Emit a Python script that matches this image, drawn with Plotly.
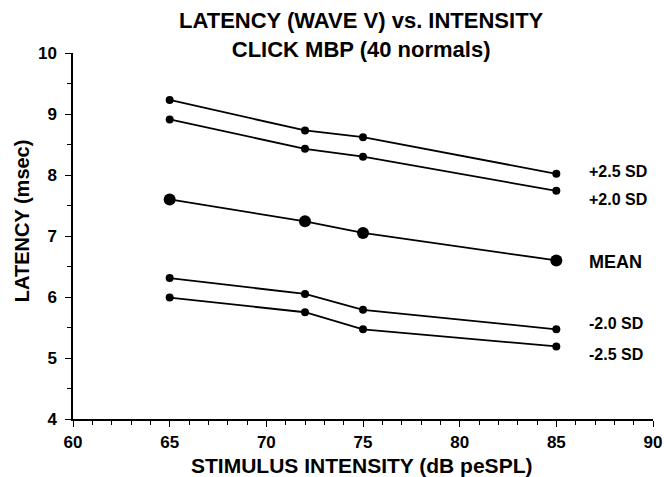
import plotly.graph_objects as go

intensity = [65, 72, 75, 85]
plus25 = [9.23, 8.73, 8.62, 8.02]
plus20 = [8.91, 8.43, 8.30, 7.74]
mean_lat = [7.60, 7.24, 7.05, 6.60]
minus20 = [6.31, 6.05, 5.79, 5.47]
minus25 = [5.99, 5.75, 5.47, 5.19]

series_names = ["+2.5 SD", "+2.0 SD", "MEAN", "-2.0 SD", "-2.5 SD"]
series_vals = [plus25, plus20, mean_lat, minus20, minus25]
label_yshift = [2, -9, -2, 6, -8]
label_size = [16, 16, 18, 16, 16]

FONT = "Liberation Sans, Arial, sans-serif"

fig = go.Figure()
for name, vals in zip(series_names, series_vals):
    big = name == "MEAN"
    fig.add_trace(go.Scatter(
        x=intensity, y=vals, mode="lines+markers", name=name,
        line=dict(color="black", width=1.8),
        marker=dict(color="black", size=12 if big else 8),
        showlegend=False,
    ))

for name, vals, ys, fs in zip(series_names, series_vals, label_yshift, label_size):
    fig.add_annotation(
        x=intensity[-1], y=vals[-1], xref="x", yref="y",
        text="<b>%s</b>" % name, showarrow=False,
        xanchor="left", yanchor="middle", xshift=31, yshift=ys,
        font=dict(family=FONT, size=fs, color="black"),
    )

# chart title (two lines)
fig.add_annotation(
    x=0.498, y=1.048, xref="paper", yref="paper",
    text="<b>LATENCY (WAVE V) vs. INTENSITY<br>CLICK MBP (40 normals)</b>",
    showarrow=False, xanchor="center", yanchor="middle",
    font=dict(family=FONT, size=22, color="black"),
)

# y-axis title
fig.add_annotation(
    x=-0.088, y=0.543, xref="paper", yref="paper",
    text="<b>LATENCY (msec)</b>", textangle=-90, showarrow=False,
    xanchor="center", yanchor="middle",
    font=dict(family=FONT, size=20, color="black"),
)

# x-axis title
fig.add_annotation(
    x=0.498, y=-0.128, xref="paper", yref="paper",
    text="<b>STIMULUS INTENSITY (dB peSPL)</b>", showarrow=False,
    xanchor="center", yanchor="middle",
    font=dict(family=FONT, size=21, color="black"),
)

fig.update_layout(
    width=664, height=477,
    margin=dict(l=73, r=11, t=53, b=58),
    paper_bgcolor="white", plot_bgcolor="white",
    font=dict(family=FONT, color="black"),
)

fig.update_xaxes(
    range=[60, 90], tick0=60, dtick=5, automargin=False,
    showgrid=False, zeroline=False,
    showline=True, linecolor="black", linewidth=1.5,
    ticks="outside", ticklen=6, tickwidth=1.3, tickcolor="black",
    ticklabelstandoff=1,
    minor=dict(dtick=1, ticks="outside", ticklen=4, tickwidth=1.2, tickcolor="black", showgrid=False),
    tickfont=dict(family=FONT, size=17, color="black", weight="bold"),
)
fig.update_yaxes(
    range=[4, 10], tick0=4, dtick=1, automargin=False,
    showgrid=False, zeroline=False,
    showline=True, linecolor="black", linewidth=1.5,
    ticks="outside", ticklen=6, tickwidth=1.3, tickcolor="black",
    ticklabelstandoff=5,
    minor=dict(dtick=0.5, ticks="outside", ticklen=4, tickwidth=1.2, tickcolor="black", showgrid=False),
    tickfont=dict(family=FONT, size=17, color="black", weight="bold"),
)

fig.write_html("out.html")
